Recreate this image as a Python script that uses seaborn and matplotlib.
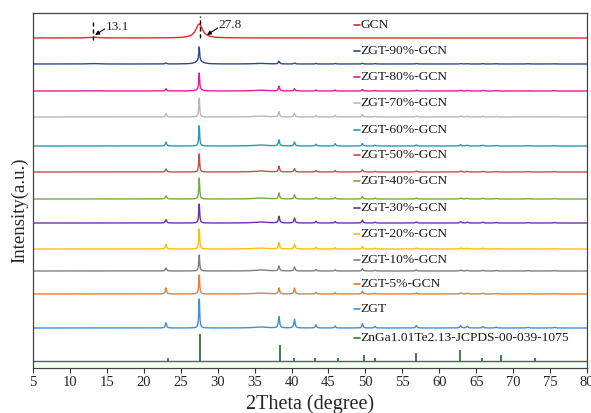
import numpy as np
import pandas as pd
import matplotlib
matplotlib.use("Agg")
import matplotlib.pyplot as plt
import seaborn as sns

# ---------------- data ----------------
series = ["GCN", "ZGT-90%-GCN", "ZGT-80%-GCN", "ZGT-70%-GCN", "ZGT-60%-GCN",
          "ZGT-50%-GCN", "ZGT-40%-GCN", "ZGT-30%-GCN", "ZGT-20%-GCN",
          "ZGT-10%-GCN", "ZGT-5%-GCN", "ZGT"]
colors = ["#e8262b", "#2c4b8c", "#e8199c", "#b8b8b8", "#1c9dbf", "#c0504d",
          "#70ad47", "#7030a0", "#ffc000", "#7f7f7f", "#ed7d31", "#3f8fe0"]
offsets = [330, 304, 277, 251, 222, 196, 169, 145, 119, 97, 74, 40]

# ZGT reflections (2theta) and their widths (FWHM, degree)
zgt_pos = [23.0, 27.5, 35.8, 38.3, 40.4, 43.3, 45.9, 49.6, 51.3, 56.9,
           62.9, 63.8, 65.9, 67.7, 72.0, 75.6]
zgt_fwhm = [0.2, 0.15, 2.0, 0.2, 0.2, 0.2, 0.2, 0.2, 0.2, 0.25,
            0.25, 0.25, 0.25, 0.25, 0.3, 0.3]

# peak heights (per series, same order as zgt_pos)
zgt_heights = {
    "GCN":         [0, 0, 0, 0, 0, 0, 0, 0, 0, 0, 0, 0, 0, 0, 0, 0],
    "ZGT-90%-GCN": [1.0, 14, 0.6, 2.7, 1.0, 0.6, 0.5, 0.8, 0.4, 0.5, 0.5, 0.4, 0.4, 0.3, 0.3, 0.3],
    "ZGT-80%-GCN": [2.3, 17, 0.8, 4.7, 2.3, 1.0, 1.0, 1.5, 0.6, 0.8, 0.8, 0.6, 0.6, 0.4, 0.3, 0.3],
    "ZGT-70%-GCN": [3.3, 19, 1.0, 5.3, 3.3, 1.7, 1.7, 2.3, 0.7, 1.0, 1.0, 0.7, 0.7, 0.5, 0.4, 0.4],
    "ZGT-60%-GCN": [4.0, 20, 1.0, 6.0, 4.0, 1.7, 2.3, 2.5, 0.8, 1.0, 1.2, 0.8, 0.8, 0.5, 0.4, 0.4],
    "ZGT-50%-GCN": [3.0, 18, 1.0, 5.7, 3.3, 1.5, 1.5, 2.3, 0.7, 1.0, 1.0, 0.7, 0.7, 0.5, 0.4, 0.4],
    "ZGT-40%-GCN": [3.3, 21, 1.0, 6.0, 4.3, 1.7, 1.5, 2.5, 0.8, 1.0, 1.1, 0.8, 0.8, 0.5, 0.4, 0.4],
    "ZGT-30%-GCN": [3.3, 19, 1.0, 6.7, 5.0, 1.7, 1.3, 2.7, 0.8, 1.0, 1.2, 0.8, 0.8, 0.5, 0.4, 0.4],
    "ZGT-20%-GCN": [4.7, 20, 1.0, 6.3, 4.7, 1.7, 1.3, 2.7, 0.8, 1.0, 1.2, 0.8, 0.8, 0.5, 0.4, 0.4],
    "ZGT-10%-GCN": [3.0, 16, 1.0, 5.0, 4.0, 1.3, 1.2, 2.3, 0.7, 1.0, 1.0, 0.7, 0.7, 0.5, 0.4, 0.4],
    "ZGT-5%-GCN":  [6.0, 19, 1.0, 6.0, 6.0, 1.7, 1.3, 3.0, 0.8, 1.0, 1.2, 0.8, 0.8, 0.5, 0.4, 0.4],
    "ZGT":         [5.3, 29, 1.0, 11.3, 8.7, 3.3, 2.0, 4.3, 1.7, 2.3, 2.3, 1.7, 1.3, 1.0, 0.7, 0.7],
}
# broad g-C3N4 contributions at 13.1 and 27.5
gcn_pos = [13.1, 27.5]
gcn_fwhm = [1.5, 1.1]
gcn_heights = {"GCN": [0.8, 14], "ZGT-90%-GCN": [0.4, 3], "ZGT-80%-GCN": [0.2, 1]}

# JCPDS 00-039-1075 stick pattern
jcpds_label = "ZnGa1.01Te2.13-JCPDS-00-039-1075"
jcpds_pos = [23.3, 27.65, 38.45, 40.4, 43.2, 46.3, 49.75, 51.25, 56.85, 62.85, 65.85, 68.35, 73.0]
jcpds_h = [3, 27, 16, 3, 3.3, 3, 5.7, 3.3, 8.3, 11.3, 3, 5.7, 3.3]
jcpds_offset = 7
jcpds_color = "#2a7d2a"

label_y = [343, 317, 291, 265, 238, 213, 187, 160, 134, 108, 84, 59]
jcpds_label_y = 30

xticks = list(range(5, 81, 5))

# --------------- build curves ---------------
x = np.linspace(5, 80, 4001)

def lor(x, c, fwhm, h):
    g = fwhm / 2.0
    return h * g**2 / ((x - c)**2 + g**2)

frames = []
for name, off in zip(series, offsets):
    y = np.zeros_like(x)
    for c, w, h in zip(zgt_pos, zgt_fwhm, zgt_heights[name]):
        y += lor(x, c, w, h)
    if name in gcn_heights:
        for c, w, h in zip(gcn_pos, gcn_fwhm, gcn_heights[name]):
            y += lor(x, c, w, h)
    frames.append(pd.DataFrame({"2theta": x, "I": y + off, "sample": name}))
df = pd.concat(frames, ignore_index=True)

# --------------- plot ---------------
sns.set_theme(style="white")
plt.rcParams["font.family"] = ["Liberation Serif", "DejaVu Serif"]

fig = plt.figure(figsize=(5.91, 4.13), dpi=100)
ax = fig.add_axes([33 / 591, 45 / 413, 554 / 591, 355 / 413])

sns.lineplot(data=df, x="2theta", y="I", hue="sample", hue_order=series,
             palette=colors, linewidth=1.0, legend=False, ax=ax, sort=False)

# JCPDS sticks
ax.plot([5, 80], [jcpds_offset, jcpds_offset], color=jcpds_color, lw=1.0)
ax.vlines(jcpds_pos, jcpds_offset, [jcpds_offset + h for h in jcpds_h],
          color=jcpds_color, lw=1.3)

# series labels (legend-like)
for name, col, ly in zip(series + [jcpds_label], colors + [jcpds_color],
                         label_y + [jcpds_label_y]):
    ax.plot([48.4, 49.3], [ly, ly], color=col, lw=1.2)
    ax.text(49.35, ly, name, fontsize=9.7, va="center", ha="left", color="#1a1a1a")

# dashed marker lines and annotations
ax.plot([13.1, 13.1], [328, 348], color="black", lw=1.0, ls=(0, (3, 2)))
ax.plot([27.6, 27.6], [330, 352], color="black", lw=1.0, ls=(0, (3, 2)))
arrow = dict(arrowstyle="-|>", color="black", lw=0.8, mutation_scale=6,
             shrinkA=0, shrinkB=0)
ax.annotate("", xy=(13.4, 333), xytext=(14.7, 339), arrowprops=arrow)
ax.text(14.9, 341.5, "13.1", fontsize=9.5, va="center", ha="left")
ax.annotate("", xy=(28.55, 333), xytext=(30.0, 340), arrowprops=arrow)
ax.text(30.1, 343.5, "27.8", fontsize=9.5, va="center", ha="left")

ax.set_xlim(5, 80)
ax.set_ylim(0, 355)
ax.set_xticks(xticks)
ax.set_xticklabels([str(t) for t in xticks], fontsize=10.5)
ax.set_yticks([])
ax.tick_params(axis="x", direction="out", length=3.5, width=0.8, color="#333333",
               pad=2, bottom=True)
for s in ax.spines.values():
    s.set_color("#444444")
    s.set_linewidth(0.9)
ax.set_xlabel("2Theta (degree)", fontsize=14.5, labelpad=4)
ax.set_ylabel("Intensity(a.u.)", fontsize=13.5)
ax.yaxis.set_label_coords(-0.009, 0.445)

fig.savefig("out.png", dpi=100)
